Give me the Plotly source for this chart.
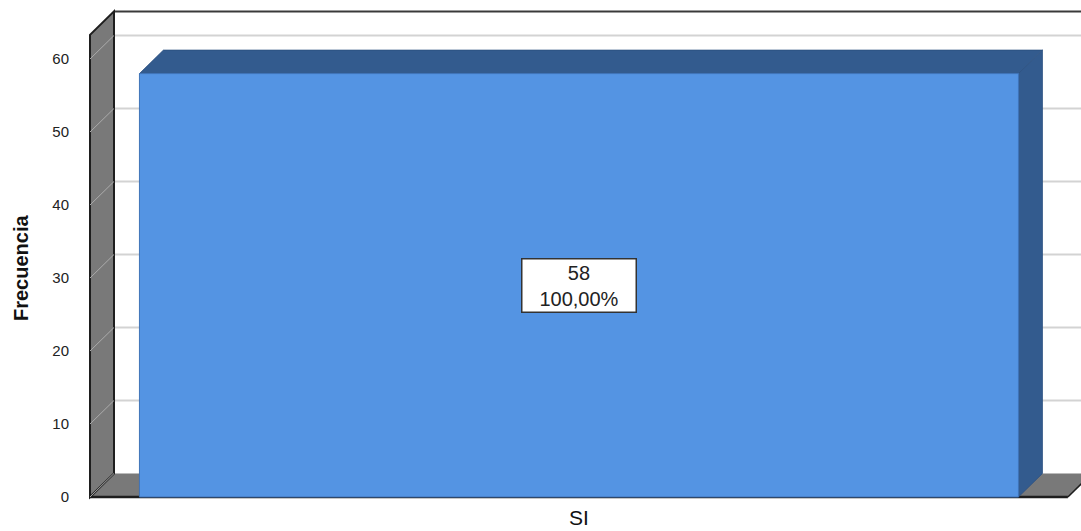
import plotly.graph_objects as go

# ---- data -------------------------------------------------------------
categorias = ["SI"]
frecuencia = [58]
porcentaje = [100.00]
ticks_y = [0, 10, 20, 30, 40, 50, 60]

# ---- geometry of the pseudo-3D frame ------------------------------------
W, H = 1081, 531
M_L, M_R, M_T, M_B = 80, 0, 0, 24
PX_X = 1098.75          # pixels per x unit
PX_Y = 7.3              # pixels per y unit
BAR_W = 0.8             # bar width in x units
FLOOR_HALF = 0.445      # half width of the floor (front edge)
WALL_TOP = 63.3         # top of the side wall, in y units
DEPTH_X = 24 / PX_X     # depth offset of the 3D projection
DEPTH_Y = 23.5 / PX_Y

plot_w = W - M_L - M_R
plot_h = H - M_T - M_B
x_lo = -FLOOR_HALF - 10 / PX_X
x_range = [x_lo, x_lo + plot_w / PX_X]
y_lo = -10 / PX_Y
y_range = [y_lo, y_lo + plot_h / PX_Y]

C_BAR = "#5494E3"
C_BAR_DARK = "#335B8E"
C_WALL = "#797979"
C_GRID = "#d3d3d3"
C_EDGE = "#1e1e1e"
FONT = "Liberation Sans, Arial, sans-serif"


def poly(pts):
    return "M " + " L ".join(f"{x},{y}" for x, y in pts) + " Z"


shapes = []
xl = -FLOOR_HALF
xr = FLOOR_HALF
x_back_l = xl + DEPTH_X
x_back_r = xr + DEPTH_X + 0.05

# back wall gridlines
for v in ticks_y[1:]:
    shapes.append(dict(type="line", xref="x", yref="y", layer="below",
                       x0=x_back_l, x1=x_back_r, y0=v + DEPTH_Y, y1=v + DEPTH_Y,
                       line=dict(color=C_GRID, width=2)))
# top edge of the back wall
shapes.append(dict(type="line", xref="x", yref="y", layer="below",
                   x0=x_back_l, x1=x_back_r, y0=WALL_TOP + DEPTH_Y, y1=WALL_TOP + DEPTH_Y,
                   line=dict(color="#3a3a3a", width=2)))
# floor
shapes.append(dict(type="path", xref="x", yref="y", layer="below",
                   path=poly([(xl, 0), (xr, 0), (xr + DEPTH_X, DEPTH_Y), (xl + DEPTH_X, DEPTH_Y)]),
                   fillcolor=C_WALL, line=dict(width=0)))
shapes.append(dict(type="line", xref="x", yref="y", layer="below",
                   x0=xl, x1=xr, y0=0, y1=0, line=dict(color=C_EDGE, width=2.5)))
shapes.append(dict(type="line", xref="x", yref="y", layer="below",
                   x0=xr, x1=xr + DEPTH_X, y0=0, y1=DEPTH_Y, line=dict(color=C_EDGE, width=1.5)))
# left wall
shapes.append(dict(type="path", xref="x", yref="y", layer="below",
                   path=poly([(xl, 0), (xl, WALL_TOP), (xl + DEPTH_X, WALL_TOP + DEPTH_Y),
                              (xl + DEPTH_X, DEPTH_Y)]),
                   fillcolor=C_WALL, line=dict(color=C_EDGE, width=2)))
# tick guides across the left wall
for v in ticks_y:
    shapes.append(dict(type="line", xref="x", yref="y", layer="below",
                       x0=xl, x1=xl + DEPTH_X, y0=v, y1=v + DEPTH_Y,
                       line=dict(color="#ababab", width=1)))

# top and side faces of the bar, derived from its value
for i, v in enumerate(frecuencia):
    b0 = i - BAR_W / 2
    b1 = i + BAR_W / 2
    shapes.append(dict(type="path", xref="x", yref="y", layer="below",
                       path=poly([(b0, v), (b1, v), (b1 + DEPTH_X, v + DEPTH_Y),
                                  (b0 + DEPTH_X, v + DEPTH_Y)]),
                       fillcolor=C_BAR_DARK, line=dict(color="#2c5080", width=0.8)))
    shapes.append(dict(type="path", xref="x", yref="y", layer="below",
                       path=poly([(b1, 0), (b1, v), (b1 + DEPTH_X, v + DEPTH_Y),
                                  (b1 + DEPTH_X, DEPTH_Y)]),
                       fillcolor=C_BAR_DARK, line=dict(color="#2c5080", width=0.8)))

fig = go.Figure(go.Bar(
    x=categorias, y=frecuencia, width=BAR_W,
    marker=dict(color=C_BAR, line=dict(color="#3f73b8", width=1)),
    hoverinfo="skip",
))

etiquetas = [f"{f}<br>{p:.2f}%".replace(".", ",") for f, p in zip(frecuencia, porcentaje)]
annotations = []
for cat, f, txt in zip(categorias, frecuencia, etiquetas):
    annotations.append(dict(x=cat, y=f / 2, xref="x", yref="y", text=txt, showarrow=False,
                            font=dict(family=FONT, size=20, color="#222222"),
                            bgcolor="white", bordercolor="#333333", borderwidth=1.5,
                            borderpad=0, width=113, height=52, align="center"))

# axis title
annotations.append(dict(x=(21 - M_L) / plot_w, y=(plot_h - 268) / plot_h,
                        xref="paper", yref="paper", text="<b>Frecuencia</b>", textangle=-90,
                        showarrow=False, xanchor="center", yanchor="middle",
                        font=dict(family=FONT, size=20, color="#111111")))

fig.update_layout(
    width=W, height=H,
    margin=dict(l=M_L, r=M_R, t=M_T, b=M_B, pad=0),
    paper_bgcolor="white", plot_bgcolor="white",
    showlegend=False,
    shapes=shapes,
    annotations=annotations,
    xaxis=dict(type="category", range=x_range, showgrid=False, zeroline=False,
               showline=False, ticks="", ticklabelstandoff=-4, automargin=False,
               tickfont=dict(family=FONT, size=21, color="#111111")),
    yaxis=dict(range=y_range, tickvals=ticks_y, showgrid=False, zeroline=False,
               showline=False, ticks="", ticklabelstandoff=10, automargin=False,
               tickfont=dict(family=FONT, size=15, color="#222222")),
)

fig.write_html("out.html")
